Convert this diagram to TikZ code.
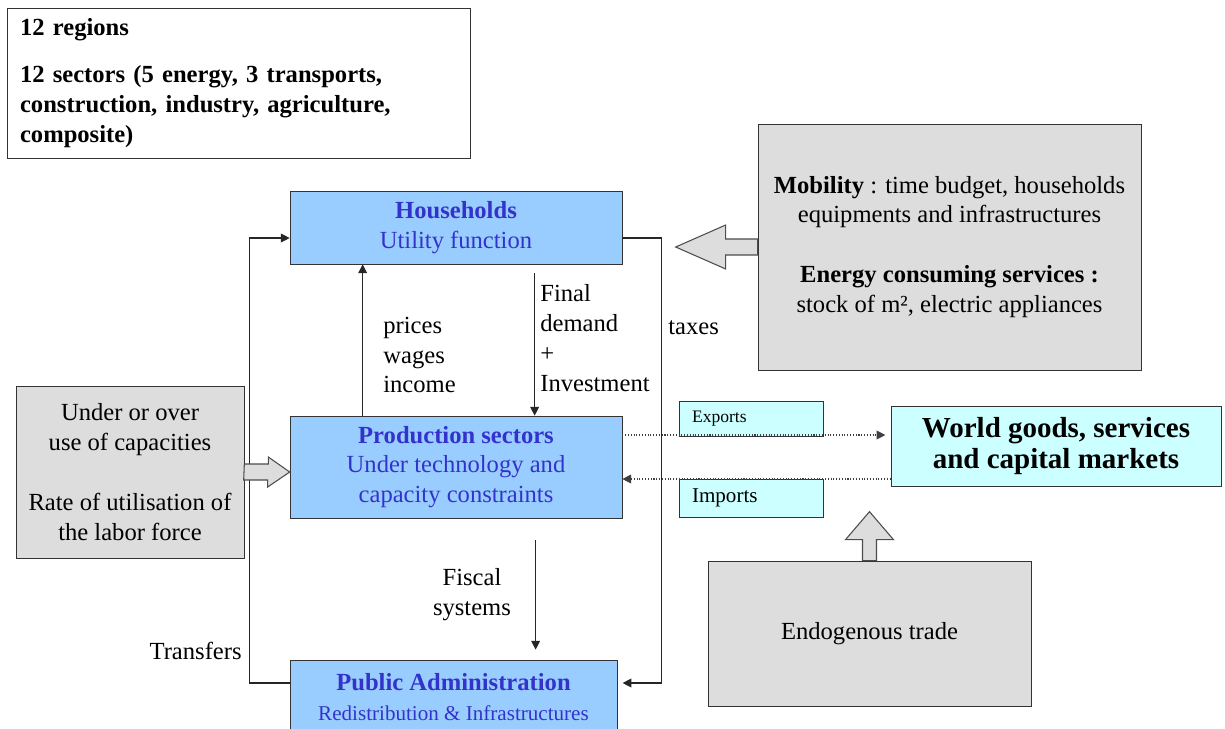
\documentclass[tikz,border=0pt]{standalone}
\usepackage{fontspec}
\setmainfont{Liberation Serif}
\usetikzlibrary{arrows.meta, positioning}
\usepackage{xcolor}

\definecolor{agentblue}{HTML}{99CCFF}
\definecolor{agenttext}{HTML}{3333CC}
\definecolor{drivergray}{HTML}{DDDDDD}
\definecolor{tradecyan}{HTML}{CCFFFF}

\begin{document}
\begin{tikzpicture}[
  x=0.02cm, y=-0.02cm,
  font=\fontsize{14}{17}\selectfont,
  agent/.style={rectangle, draw=black!80, fill=agentblue, text=agenttext, align=center, inner sep=0pt},
  driver/.style={rectangle, draw=black!80, fill=drivergray, align=center, inner sep=0pt},
  trade/.style={rectangle, draw=black!80, fill=tradecyan, inner sep=0pt},
  flow/.style={-{Triangle[length=5pt,width=5pt]}, black!85, line width=0.6pt},
  tradeflow/.style={flow, densely dotted, black!75},
  bigarrow/.style={draw=black!70, fill=drivergray, line width=0.6pt},
  lbl/.style={align=left, inner sep=0pt, anchor=west}
]
\useasboundingbox (0,0) rectangle (1225,728);

% model dimensions
\node[draw=black!80, fill=white, minimum width=9.26cm, minimum height=3cm, text width=8.74cm, inner xsep=0.26cm, align=left, font=\fontsize{14}{17}\selectfont\bfseries] (dims) at (238.5,83) {12 regions\\[0.36cm] 12 sectors (5 energy, 3 transports,\\ construction, industry, agriculture,\\ composite)};

% agents
\node[agent, minimum width=6.64cm, minimum height=1.46cm] (hh) at (456,227.5) {\textbf{Households}\\ Utility function};
\node[agent, minimum width=6.64cm, minimum height=2.04cm] (prod) at (456,467) {\textbf{Production sectors}\\ Under technology and\\ capacity constraints};
\node[agent, minimum width=6.54cm, minimum height=1.48cm] (pa) at (453.5,697) {\textbf{Public Administration}\\ {\fontsize{12}{17}\selectfont Redistribution \& Infrastructures}};

% drivers
\node[driver, minimum width=4.56cm, minimum height=3.44cm] (drv) at (130,472) {Under or over\\ use of capacities\\[0.6cm] Rate of utilisation of\\ the labor force};
\node[driver, minimum width=7.66cm, minimum height=4.92cm] (mob) at (949.5,247) {\textbf{Mobility} : time budget, households\\ equipments and infrastructures\\[0.6cm] \textbf{Energy consuming services :}\\ stock of m², electric appliances};
\node[driver, minimum width=6.46cm, minimum height=2.9cm] (endo) at (869.5,633.5) {Endogenous trade};

% trade
\node[trade, minimum width=6.6cm, minimum height=1.6cm, align=center, font=\fontsize{16.5}{17.6}\selectfont\bfseries] (world) at (1056,446) {World goods, services\\ and capital markets};
\node[trade, minimum width=2.88cm, minimum height=0.7cm, text width=2.36cm, inner xsep=0.26cm, align=left, font=\fontsize{10}{12}\selectfont] (exps) at (751,418.5) {Exports};
\node[trade, minimum width=2.88cm, minimum height=0.76cm, text width=2.36cm, inner xsep=0.26cm, align=left, font=\fontsize{12}{14}\selectfont] (imps) at (751,498) {Imports};

% labels
\node[lbl] (pwi) at (383,355) {prices\\ wages\\ income};
\node[lbl] (fd) at (540,338) {Final\\ demand\\ +\\ Investment};
\node[lbl] (tx) at (668,328) {taxes};
\node[align=center, inner sep=0pt] (fs) at (472,595) {Fiscal\\ systems};
\node[anchor=east, inner sep=0pt] (tr) at (242,651) {Transfers};

% flows
\draw[flow] ([xshift=1.46cm]prod.north west) -- ([xshift=1.46cm]hh.south west);
\draw[flow] ([xshift=4.9cm,yshift=-0.18cm]hh.south west) -- ([xshift=4.9cm]prod.north west);
\draw[flow] ([xshift=4.92cm,yshift=-0.44cm]pa.north west |- prod.south) -- ([xshift=4.92cm,yshift=0.2cm]pa.north west);
\draw[flow] ([yshift=-0.21cm]hh.east) -- ++(39,0) |- ([xshift=3pt,yshift=0.28cm]pa.east);
\draw[flow] ([yshift=0.28cm]pa.west) -- ++(-40,0) |- ([yshift=-0.21cm]hh.west);

\coordinate (exp) at ([yshift=0.64cm]prod.east);
\coordinate (imp) at ([yshift=-0.24cm]prod.east);
\draw[tradeflow] (exp) -- ([xshift=-3pt]exp -| world.west);
\draw[tradeflow] (imp -| world.west) -- (imp);

% block arrows
\draw[bigarrow] (drv.east) ++(0,-8) -- ++(24,0) -- ++(0,-7) -- (drv.east -| prod.west) -- ++(-22,15) -- ++(0,-7) -- ++(-24,0) -- cycle;
\draw[bigarrow] (mob.west) ++(0,-8) -- ++(-32,0) -- ++(0,-14) -- ++(-50,22) -- ++(50,22) -- ++(0,-14) -- ++(32,0) -- cycle;
\draw[bigarrow] (endo.north) ++(-7,0) -- ++(0,-21) -- ++(-17,0) -- ++(24,-28) -- ++(24,28) -- ++(-17,0) -- ++(0,21) -- cycle;

\end{tikzpicture}
\end{document}
